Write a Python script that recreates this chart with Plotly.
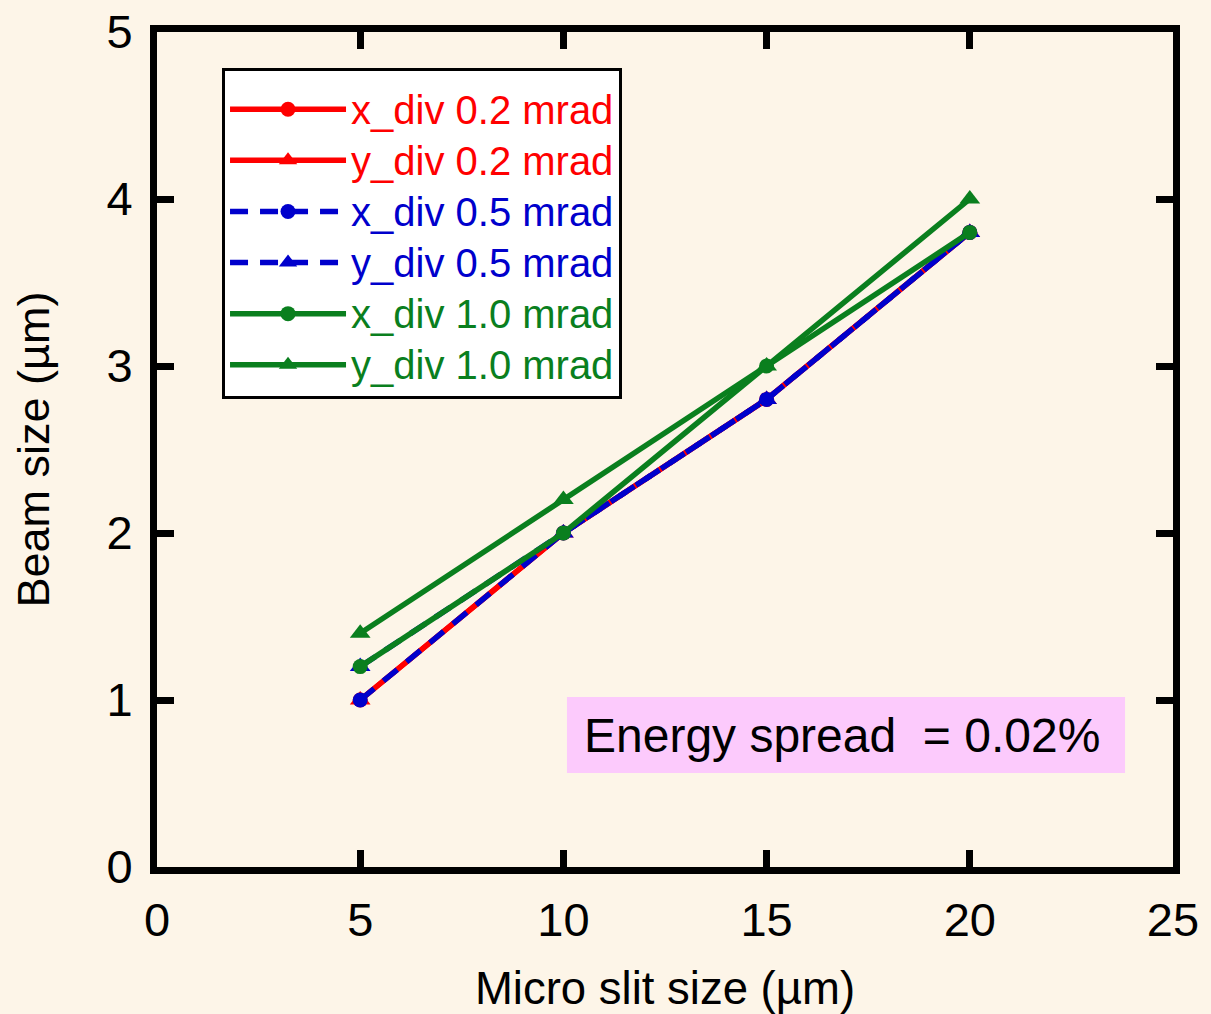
import plotly.graph_objects as go

slit = [5, 10, 15, 20]
x_div_02 = [1.0, 2.0, 2.8, 3.8]
y_div_02 = [1.0, 2.0, 2.8, 3.8]
x_div_05 = [1.0, 2.0, 2.8, 3.8]
y_div_05 = [1.2, 2.0, 2.8, 3.8]
x_div_10 = [1.2, 2.0, 3.0, 3.8]
y_div_10 = [1.4, 2.2, 3.0, 4.0]

names = ["x_div 0.2 mrad", "y_div 0.2 mrad", "x_div 0.5 mrad",
         "y_div 0.5 mrad", "x_div 1.0 mrad", "y_div 1.0 mrad"]
series = [x_div_02, y_div_02, x_div_05, y_div_05, x_div_10, y_div_10]

RED = "#FF0000"
BLUE = "#0000CC"
GREEN = "#0A7F1E"
colors = [RED, RED, BLUE, BLUE, GREEN, GREEN]
dashes = ["solid", "solid", "18px,12px", "18px,12px", "solid", "solid"]
symbols = ["circle", "triangle-up"] * 3

FONT = "Liberation Sans, Arial, sans-serif"
BG = "#FDF5E8"

fig = go.Figure()
for name, ys, c, d, s in zip(names, series, colors, dashes, symbols):
    fig.add_trace(go.Scatter(
        x=slit, y=ys, mode="lines+markers",
        name=f'<span style="color:{c};font-size:40px">{name}</span>',
        line=dict(color=c, width=5.5, dash=d),
        marker=dict(symbol=s, size=15 if s == "circle" else 18, color=c),
    ))

axis_common = dict(
    showline=True, linecolor="black", linewidth=7, mirror="ticks",
    ticks="inside", ticklen=17, tickwidth=7, tickcolor="black",
    showgrid=False, zeroline=False, automargin=False,
    tickfont=dict(family=FONT, size=47, color="black"),
)

fig.update_layout(
    width=1211, height=1014,
    paper_bgcolor=BG, plot_bgcolor=BG,
    margin=dict(l=157, r=38, t=32, b=147),
    font=dict(family=FONT, color="black"),
    xaxis=dict(range=[0, 25], dtick=5, tick0=0,
               title=dict(text="Micro slit size (µm)", font=dict(family=FONT, size=45.5), standoff=34),
               ticklabelstandoff=6, **axis_common),
    yaxis=dict(range=[0, 5], dtick=1, tick0=0,
               title=dict(text="Beam size (µm)", font=dict(family=FONT, size=45), standoff=45),
               ticklabelstandoff=8, **axis_common),
    legend=dict(x=0.064, y=0.957, xanchor="left", yanchor="top",
                bgcolor="white", bordercolor="black", borderwidth=3,
                font=dict(family=FONT, size=37), itemwidth=116,
                tracegroupgap=0,
                title=dict(text="\u00a0", font=dict(size=6))),
    shapes=[dict(type="rect", xref="paper", yref="paper",
                 x0=0.4035, x1=0.9528, y0=0.1126, y1=0.2036,
                 fillcolor="#FCCAFC", line=dict(width=0), layer="below")],
    annotations=[dict(text="Energy spread \u00a0= 0.02%", xref="paper", yref="paper",
                      x=0.674, y=0.158, xanchor="center", yanchor="middle",
                      showarrow=False,
                      font=dict(family=FONT, size=48, color="black"))],
)

fig.write_html("out.html", config={"displayModeBar": False},
               post_script="document.body.style.margin='0';document.body.style.padding='0';")
